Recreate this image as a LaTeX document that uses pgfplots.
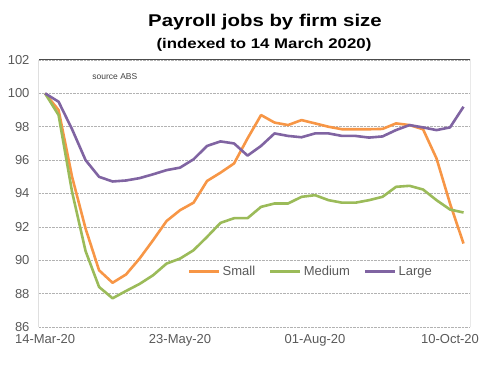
\documentclass[border=0pt]{standalone}
\usepackage{fontspec}
\setmainfont{Liberation Sans}
\newfontfamily\titlefont[FakeStretch=1.2]{Liberation Sans}
\usepackage{pgfplots}
\usepackage{pgfplotstable}
\pgfplotsset{compat=1.18}
\definecolor{cS}{HTML}{F79646}
\definecolor{cM}{HTML}{9BBB59}
\definecolor{cL}{HTML}{8064A2}
\definecolor{tickc}{HTML}{595959}

\pgfplotstableread{
i small medium large
0 100 100 100
1 99.0 98.7 99.5
2 95.0 94.1 97.85
3 91.9 90.55 96.0
4 89.4 88.4 95.0
5 88.65 87.72 94.72
6 89.15 88.16 94.78
7 90.1 88.58 94.92
8 91.2 89.1 95.15
9 92.35 89.8 95.4
10 93.0 90.1 95.55
11 93.45 90.6 96.05
12 94.75 91.4 96.85
13 95.25 92.24 97.12
14 95.8 92.52 97.0
15 97.3 92.52 96.27
16 98.7 93.2 96.85
17 98.25 93.4 97.6
18 98.1 93.4 97.45
19 98.4 93.8 97.37
20 98.2 93.9 97.6
21 98.0 93.6 97.6
22 97.85 93.45 97.45
23 97.85 93.45 97.45
24 97.85 93.6 97.35
25 97.87 93.8 97.42
26 98.2 94.4 97.8
27 98.1 94.46 98.1
28 97.85 94.24 97.96
29 96.1 93.6 97.8
30 93.4 93.04 97.96
31 91.0 92.86 99.2
}\jobs

\begin{document}
\begin{tikzpicture}
\useasboundingbox (-39pt,-47pt) rectangle (464pt,327pt);
\begin{axis}[
  at={(0pt,0pt)}, anchor=south west,
  scale only axis, width=431pt, height=267pt,
  xmin=-0.45, xmax=31.48, ymin=86, ymax=102,
  ytick={86,88,...,102},
  xtick={0,10,20,30},
  xticklabels={14-Mar-20,23-May-20,01-Aug-20,10-Oct-20},
  major tick length=0pt,
  ymajorgrids,
  grid style={densely dotted, gray!60, line width=0.7pt},
  axis line style={draw=none},
  tick label style={font=\fontsize{13}{15}\selectfont, text=tickc},
  /pgf/number format/assume math mode=true,
  yticklabel style={xshift=-6pt},
  xticklabel style={yshift=-4pt},
  legend style={at={(0.631,0.207)}, anchor=center, draw=none, fill=none,
    legend columns=-1, font=\fontsize{13}{15}\selectfont, text=tickc,
    /tikz/every even column/.append style={column sep=12pt}},
  legend image code/.code={\draw[#1] (0pt,0pt) -- (30pt,0pt);},
  every axis plot/.append style={line width=2.6pt, line join=round, no markers},
]
\addplot[cS] table[x=i, y=small] {\jobs};
\addlegendentry{Small}
\addplot[cM] table[x=i, y=medium] {\jobs};
\addlegendentry{Medium}
\addplot[cL] table[x=i, y=large] {\jobs};
\addlegendentry{Large}
\draw[gray!50, line width=0.8pt] (rel axis cs:0,0) -- (rel axis cs:1,0);
\draw[black, line width=1pt] (rel axis cs:0,0) -- (rel axis cs:0,1);
\draw[black!70, line width=1pt] (rel axis cs:0,1) -- (rel axis cs:1,1) -- (rel axis cs:1,0);
\node[font=\fontsize{8.5}{10}\selectfont, text=black!75] at (rel axis cs:0.176,0.937) {source ABS};
\end{axis}
\node[font=\fontsize{17}{20}\titlefont\bfseries] at (226pt,305pt) {Payroll jobs by firm size};
\node[font=\fontsize{14}{17}\titlefont\bfseries] at (225pt,282pt) {(indexed to 14 March 2020)};
\end{tikzpicture}
\end{document}
